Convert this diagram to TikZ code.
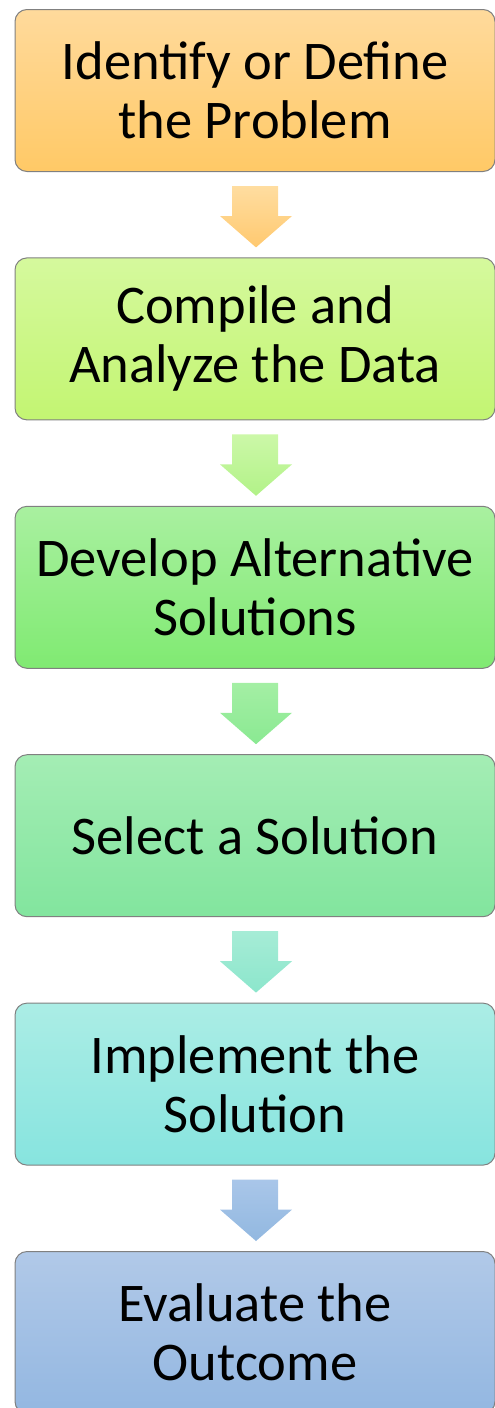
\documentclass[tikz,border=0pt]{standalone}
\usepackage{fontspec}
\setmainfont{Carlito}
\usepackage{xcolor}
\usetikzlibrary{
	positioning,
	calc
}

\definecolor{orangeT}{HTML}{FFDA9C}
\definecolor{orangeB}{HTML}{FFC966}
\definecolor{limeT}{HTML}{D5F99D}
\definecolor{limeB}{HTML}{C3F572}
\definecolor{greenT}{HTML}{A9F0A0}
\definecolor{greenB}{HTML}{80EA72}
\definecolor{mintT}{HTML}{A4EDB4}
\definecolor{mintB}{HTML}{82E59E}
\definecolor{aquaT}{HTML}{ABEDE5}
\definecolor{aquaB}{HTML}{87E4DF}
\definecolor{blueT}{HTML}{B1C9E8}
\definecolor{blueB}{HTML}{93B7E1}

\tikzset{
	stepbox/.style={
		draw=black!50,
		line width=1pt,
		rounded corners=12pt,
		minimum width=480pt,
		minimum height=162pt,
		align=center,
		font=\fontsize{54.5}{59}\selectfont
	}
}

\begin{document}
\begin{tikzpicture}[x=1pt,y=1pt,node distance=85.4pt]
		\useasboundingbox (0,0) rectangle (495,-1408);

		\node[stepbox,top color=orangeT,bottom color=orangeB] (s1) at (255,-90.5) {Identify or Define\\the Problem};
		\node[stepbox,top color=limeT,bottom color=limeB,below=of s1]   (s2) {Compile and\\Analyze the Data};
		\node[stepbox,top color=greenT,bottom color=greenB,below=of s2] (s3) {Develop Alternative\\Solutions};
		\node[stepbox,top color=mintT,bottom color=mintB,below=of s3]   (s4) {Select a Solution};
		\node[stepbox,top color=aquaT,bottom color=aquaB,below=of s4]   (s5) {Implement the\\Solution};
		\node[stepbox,top color=blueT,bottom color=blueB,below=of s5]   (s6) {Evaluate the\\Outcome};

		% block arrows between the steps
		\foreach \a/\b/\ct/\cb in {
			s1/s2/FFDDA0/FFC970,
			s2/s3/CCF8A8/B2F288,
			s3/s4/A4EFA4/8AE992,
			s4/s5/A6ECD6/8CE6CC,
			s5/s6/A9C6E9/92B8E0
		}{
			\definecolor{arT}{HTML}{\ct}
			\definecolor{arB}{HTML}{\cb}
			\shade[top color=arT,bottom color=arB]
				([xshift=-23pt,yshift=-14pt]\a.south) -- ([xshift=23pt,yshift=-14pt]\a.south)
				-- ([xshift=23pt,yshift=-44pt]\a.south) -- ([xshift=37pt,yshift=-44pt]\a.south)
				-- ([xshift=1pt,yshift=10pt]\b.north)
				-- ([xshift=-35pt,yshift=-44pt]\a.south) -- ([xshift=-23pt,yshift=-44pt]\a.south)
				-- cycle;
		}
	\end{tikzpicture}
\end{document}
